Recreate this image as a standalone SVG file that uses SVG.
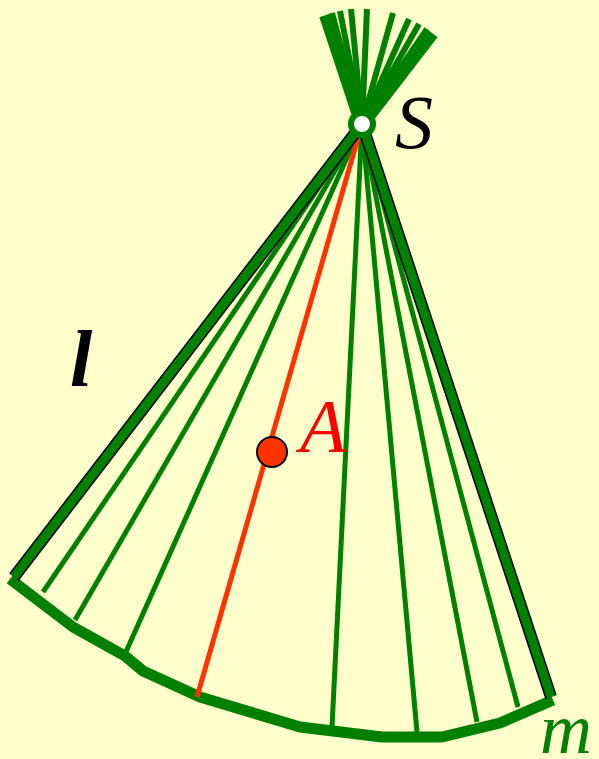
<svg xmlns="http://www.w3.org/2000/svg" width="599" height="759" viewBox="0 0 599 759">
<style>
.ext{stroke:#008000;fill:none}
.thin{stroke:#008000;stroke-width:5;fill:none}
.outl{stroke:#000;stroke-width:12;fill:none}
.thick{stroke:#008000;stroke-width:9;fill:none}
.lbl{font-family:"Liberation Serif",serif;font-style:italic}
</style>
<rect width="599" height="759" fill="#ffffcc"/>
<g id="connectors">
<g id="extensions">
<line class="ext" stroke-width="14" x1="362" y1="124" x2="432" y2="33"/>
<line class="ext" stroke-width="6" x1="362" y1="124" x2="427" y2="29"/>
<line class="ext" stroke-width="6" x1="362" y1="124" x2="419" y2="24"/>
<line class="ext" stroke-width="6" x1="362" y1="124" x2="409" y2="19"/>
<line class="ext" stroke-width="6" x1="362" y1="124" x2="393" y2="13"/>
<line class="ext" stroke-width="6" x1="362" y1="124" x2="367" y2="9"/>
<line class="ext" stroke-width="6" x1="362" y1="124" x2="351" y2="9"/>
<line class="ext" stroke-width="6" x1="362" y1="124" x2="340" y2="11"/>
<line class="ext" stroke-width="6" x1="362" y1="124" x2="332" y2="13"/>
<line class="ext" stroke-width="14" x1="362" y1="124" x2="326" y2="15"/>
</g>
<polyline id="m-curve" fill="none" stroke="#008000" stroke-width="11" stroke-linejoin="bevel" points="10,579 73,627 125,656 143,671 200,697 220,703 300,727 382,737 442,737 500,723 553,700"/>
<g id="rays">
<line class="thin" x1="362" y1="124" x2="43" y2="592"/>
<line class="thin" x1="362" y1="124" x2="75" y2="620"/>
<line class="thin" x1="362" y1="124" x2="125" y2="654"/>
<line class="thin" x1="362" y1="124" x2="332" y2="727"/>
<line class="thin" x1="362" y1="124" x2="417" y2="732"/>
<line class="thin" x1="362" y1="124" x2="477" y2="722"/>
<line class="thin" x1="362" y1="124" x2="518" y2="707"/>
<line stroke="#ff3300" stroke-width="5" x1="362" y1="124" x2="197" y2="697"/>
<line class="outl" x1="362" y1="124" x2="14" y2="577"/>
<line class="thick" x1="362" y1="124" x2="14" y2="577"/>
<line class="outl" x1="362" y1="124" x2="551" y2="697"/>
<line class="thick" x1="362" y1="124" x2="551" y2="697"/>
</g>
</g>
<g id="S">
<circle cx="362" cy="124" r="11" fill="#fff" stroke="#008000" stroke-width="6"/>
<text class="lbl" x="395" y="148" font-size="76" fill="#000">S</text>
</g>
<g id="A">
<circle cx="272" cy="452" r="15" fill="#ff3300" stroke="#000" stroke-width="2"/>
<text class="lbl" x="300" y="452" font-size="76" fill="#ff0000">A</text>
</g>
<g id="l">
<text class="lbl" x="70" y="386" font-size="80" font-weight="bold" fill="#000">l</text>
</g>
<g id="m">
<text class="lbl" x="540" y="753" font-size="72" fill="#008000">m</text>
</g>
</svg>
